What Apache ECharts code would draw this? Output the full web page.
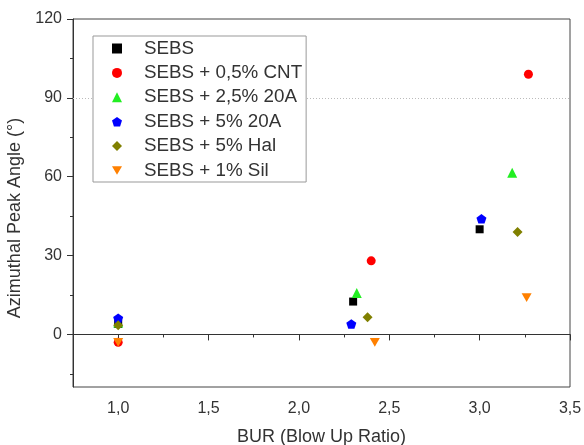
<!DOCTYPE html>
<html>
<head>
<meta charset="utf-8">
<script src="https://cdn.jsdelivr.net/npm/echarts@6/dist/echarts.min.js"></script>
<style>
html,body{margin:0;padding:0;background:#fff;}
#chart{width:584px;height:445px;}
</style>
</head>
<body>
<div id="chart"></div>
<script>
// ---- data ----
const seriesNames = ['SEBS', 'SEBS + 0,5% CNT', 'SEBS + 2,5% 20A', 'SEBS + 5% 20A', 'SEBS + 5% Hal', 'SEBS + 1% Sil'];
const sebs    = [[1.00, 4.0], [2.30, 12.5], [3.00, 40.0]];
const cnt     = [[1.00, -3.0], [2.40, 28.0], [3.27, 99.0]];
const c20a25  = [[1.00, 4.5], [2.32, 15.8], [3.18, 61.5]];
const c20a5   = [[1.00, 6.2], [2.29, 4.0], [3.01, 44.0]];
const hal     = [[1.00, 3.5], [2.38, 6.5], [3.21, 39.0]];
const sil     = [[1.00, -3.0], [2.42, -3.0], [3.26, 14.0]];
const xMajorTicks = [1.0, 1.5, 2.0, 2.5, 3.0, 3.5];
const xMinorTicks = [1.25, 1.75, 2.25, 2.75, 3.25];
const yMajorTicks = [0, 30, 60, 90, 120];
const yMinorTicks = [-15, 15, 45, 75, 105];
const refLineY = 90;

// ---- styling ----
const FONT = 'Liberation Sans, Arial, sans-serif';
const TXT = '#333';
const PENTAGON = 'path://M50,0 L97.55,34.55 L79.39,90.45 L20.61,90.45 L2.45,34.55 Z';
const DOWN_TRI = 'path://M0,0 L100,0 L50,86.6 Z';

const allData = [sebs, cnt, c20a25, c20a5, hal, sil];
const colors = ['#000000', '#ff0000', '#22ee22', '#0000ff', '#808000', '#ff8000'];
const symbols = ['rect', 'circle', 'triangle', PENTAGON, 'diamond', DOWN_TRI];
const sizes = [8, 9, 10, 10, 10, 10];

const series = allData.map((d, i) => ({
  name: seriesNames[i],
  type: 'scatter',
  data: d,
  symbol: symbols[i],
  symbolSize: sizes[i],
  symbolKeepAspect: true,
  itemStyle: { color: colors[i], opacity: 1 },
  emphasis: { disabled: true },
  z: 3 + i
}));
series[0].markLine = {
  silent: true,
  symbol: 'none',
  label: { show: false },
  lineStyle: { color: '#bbb', type: [1, 2], width: 1 },
  data: [{ yAxis: refLineY }],
  z: 1
};

const fmtComma = v => v.toFixed(1).replace('.', ',');

const chart = echarts.init(document.getElementById('chart'), null, { renderer: 'canvas' });
chart.setOption({
  animation: false,
  textStyle: { fontFamily: FONT },
  grid: { left: 73, right: 14, top: 19, bottom: 58, containLabel: false, outerBoundsMode: 'none', show: true, borderColor: '#444', borderWidth: 1, backgroundColor: 'transparent' },
  legend: {
    orient: 'vertical',
    left: 93, top: 36,
    backgroundColor: '#fff',
    borderColor: '#999', borderWidth: 1,
    padding: [3, 4, 2, 19],
    itemWidth: 10, itemHeight: 10,
    itemGap: 5.4,
    selectedMode: false,
    textStyle: { fontSize: 18.8, color: TXT, fontFamily: FONT, lineHeight: 18, padding: [0, 0, 0, 17] },
    data: seriesNames
  },
  xAxis: [{
    type: 'value', min: 0.75, max: 3.5,
    axisLine: { show: true, lineStyle: { color: '#333' } },
    axisTick: { show: true, inside: false, length: 6, customValues: xMajorTicks, lineStyle: { color: '#333' } },
    axisLabel: { customValues: xMajorTicks, formatter: fmtComma, fontSize: 16, color: TXT, margin: 14, fontFamily: FONT },
    splitLine: { show: false },
    name: 'BUR (Blow Up Ratio)', nameLocation: 'middle', nameGap: 41,
    nameTextStyle: { fontSize: 18, color: TXT, fontFamily: FONT }
  }, {
    type: 'value', min: 0.75, max: 3.5, position: 'bottom', gridIndex: 0,
    axisLine: { show: false },
    axisTick: { show: true, length: 3, customValues: xMinorTicks, lineStyle: { color: '#333' } },
    axisLabel: { show: false },
    splitLine: { show: false }
  }],
  yAxis: [{
    type: 'value', min: -20, max: 120,
    axisLine: { show: true, lineStyle: { color: '#333' } },
    axisTick: { show: true, inside: false, length: 6, customValues: yMajorTicks, lineStyle: { color: '#333' } },
    axisLabel: { customValues: yMajorTicks, fontSize: 16, color: TXT, margin: 11, fontFamily: FONT },
    splitLine: { show: false },
    name: 'Azimuthal Peak Angle (°)', nameLocation: 'middle', nameGap: 42,
    nameTextStyle: { fontSize: 18, color: TXT, fontFamily: FONT, padding: [0, 30, 0, 0] }
  }, {
    type: 'value', min: -20, max: 120, position: 'left', gridIndex: 0,
    axisLine: { show: false },
    axisTick: { show: true, length: 3, customValues: yMinorTicks, lineStyle: { color: '#333' } },
    axisLabel: { show: false },
    splitLine: { show: false }
  }],
  series: series
});
</script>
</body>
</html>
